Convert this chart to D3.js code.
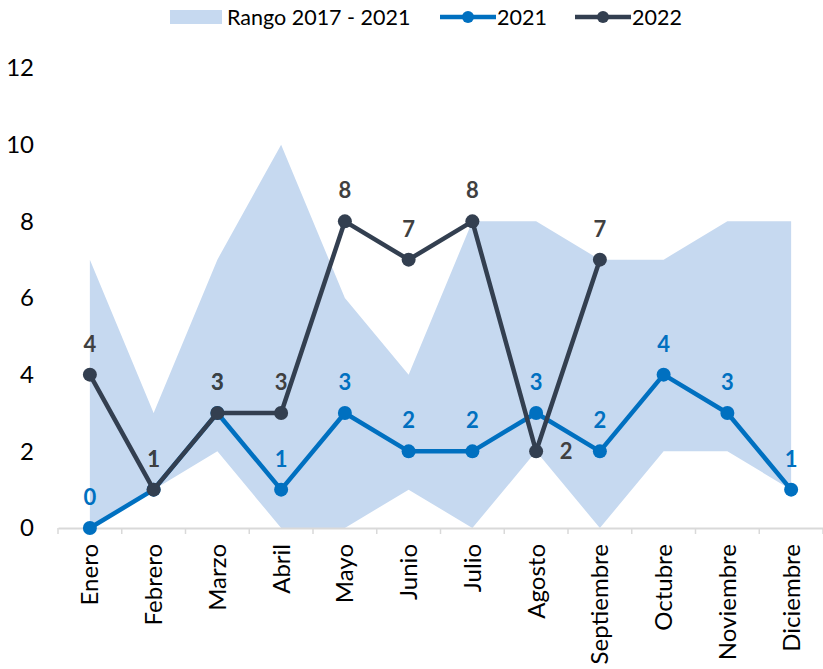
<!DOCTYPE html>
<html>
<head>
<meta charset="utf-8">
<script src="https://cdn.jsdelivr.net/npm/d3@7"></script>
<style>
  body { margin: 0; background: #fff; }
  text { font-family: Lato, "Open Sans", sans-serif; }
</style>
</head>
<body>
<div id="chart"></div>
<script>
const months = ['Enero', 'Febrero', 'Marzo', 'Abril', 'Mayo', 'Junio', 'Julio',
                'Agosto', 'Septiembre', 'Octubre', 'Noviembre', 'Diciembre'];
const rangeMin = [0, 1, 2, 0, 0, 1, 0, 2, 0, 2, 2, 1];
const rangeMax = [7, 3, 7, 10, 6, 4, 8, 8, 7, 7, 8, 8];
const values2021 = [0, 1, 3, 1, 3, 2, 2, 3, 2, 4, 3, 1];
const values2022 = [4, 1, 3, 3, 8, 7, 8, 2, 7];
const yTicks = [0, 2, 4, 6, 8, 10, 12];

const width = 823, height = 669;
const blue = '#0070c0', navy = '#333f50', band = '#c6d9f0';

const svg = d3.select('#chart').append('svg')
  .attr('width', width)
  .attr('height', height);

const x = d3.scaleBand().domain(months).range([58, 823]);
const y = d3.scaleLinear().domain([0, 12]).range([528, 68]);
const cx = m => x(m) + x.bandwidth() / 2;

// range band
const area = d3.area()
  .x((d, i) => cx(months[i]))
  .y0((d, i) => y(rangeMin[i]))
  .y1(d => y(d));
svg.append('path')
  .datum(rangeMax)
  .attr('d', area)
  .attr('fill', band);

// x axis
const xAxis = svg.append('g')
  .attr('transform', `translate(0,${y(0)})`)
  .call(d3.axisBottom(x).tickSize(0));
xAxis.select('.domain').attr('stroke', '#d9d9d9').attr('stroke-width', 2);
xAxis.selectAll('.tick text')
  .attr('transform', 'rotate(-90)')
  .attr('text-anchor', 'end')
  .attr('dy', '0.35em')
  .attr('x', -16)
  .attr('y', 0)
  .attr('font-size', 24)
  .attr('fill', '#000');
// tick marks between categories
svg.append('g').selectAll('line')
  .data(d3.range(months.length + 1))
  .enter().append('line')
  .attr('x1', i => 58 + i * x.step())
  .attr('x2', i => 58 + i * x.step())
  .attr('y1', y(0))
  .attr('y2', y(0) + 6)
  .attr('stroke', '#d9d9d9')
  .attr('stroke-width', 1.5);

// y axis labels
const yAxis = svg.append('g')
  .attr('transform', 'translate(34,0)')
  .call(d3.axisLeft(y).tickValues(yTicks).tickSize(0).tickPadding(0));
yAxis.select('.domain').remove();
yAxis.selectAll('.tick text').attr('font-size', 24).attr('fill', '#000');

// lines
function drawSeries(vals, color) {
  const line = d3.line().x((d, i) => cx(months[i])).y(d => y(d));
  svg.append('path')
    .datum(vals)
    .attr('d', line)
    .attr('fill', 'none')
    .attr('stroke', color)
    .attr('stroke-width', 4.5)
    .attr('stroke-linejoin', 'round');
  svg.append('g').selectAll('circle')
    .data(vals)
    .enter().append('circle')
    .attr('cx', (d, i) => cx(months[i]))
    .attr('cy', d => y(d))
    .attr('r', 7)
    .attr('fill', color);
}
drawSeries(values2021, blue);
drawSeries(values2022, navy);

// data labels
function drawLabels(vals, color, offsets) {
  svg.append('g').selectAll('text')
    .data(vals)
    .enter().append('text')
    .attr('x', (d, i) => cx(months[i]) + (offsets[i] ? offsets[i][0] : 0))
    .attr('y', (d, i) => y(d) + (offsets[i] ? offsets[i][1] : -23))
    .attr('text-anchor', 'middle')
    .attr('font-size', 22)
    .attr('font-weight', 'bold')
    .attr('fill', color)
    .text(d => d);
}
drawLabels(values2021, blue, {});
drawLabels(values2022, '#404040', { 7: [30, 8] });

// legend
const lg = svg.append('g');
lg.append('rect').attr('x', 170).attr('y', 10).attr('width', 52).attr('height', 14).attr('fill', band);
lg.append('text').attr('x', 227).attr('y', 25).attr('font-size', 21.5).text('Rango 2017 - 2021');
[[440, blue, '2021'], [575, navy, '2022']].forEach(([lx, c, t]) => {
  lg.append('line').attr('x1', lx).attr('x2', lx + 56).attr('y1', 17).attr('y2', 17)
    .attr('stroke', c).attr('stroke-width', 4.5);
  lg.append('circle').attr('cx', lx + 28).attr('cy', 17).attr('r', 6).attr('fill', c);
  lg.append('text').attr('x', lx + 57).attr('y', 25).attr('font-size', 21.5).text(t);
});
</script>
</body>
</html>
